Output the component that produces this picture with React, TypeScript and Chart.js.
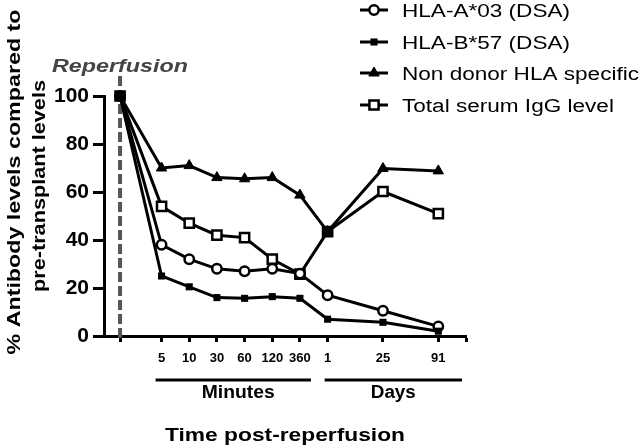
import React, { useEffect, useRef } from "react";
import { Chart, registerables } from "chart.js";

Chart.register(...registerables);

// ---- data ----
const timeLabels = ["", "5", "10", "30", "60", "120", "360", "1", "25", "91"];
const hlaA03 = [100, 38, 32, 28, 27, 28, 26, 17, 10.5, 4];
const hlaB57 = [100, 25, 20.5, 16, 15.7, 16.4, 15.7, 7, 5.7, 2];
const nonDonor = [100, 70, 71, 66, 65.5, 66, 58.7, 43.5, 69.8, 68.8];
const totalIgG = [100, 54, 47, 42, 41, 32, 25.8, 43.5, 60.2, 51];
const yTicks = [0, 20, 40, 60, 80, 100];
const seriesNames = [
  "HLA-A*03 (DSA)",
  "HLA-B*57 (DSA)",
  "Non donor HLA specific",
  "Total serum IgG level",
];

// category slot of each time point (minutes then days, days spaced wider)
const slotOf = (i: number) => (i === 0 ? 0 : i <= 7 ? i + 0.5 : 7.5 + (i - 7) * 2);
const AXIS_END = 12.5;
const FONT = "'Liberation Sans', Arial, sans-serif";

const toPoints = (arr: number[]) => arr.map((y, i) => ({ x: slotOf(i), y }));

function fitText(
  ctx: CanvasRenderingContext2D,
  text: string,
  x: number,
  y: number,
  width: number,
  font: string,
  align: CanvasTextAlign,
  rotate = 0
) {
  ctx.save();
  ctx.font = font;
  const m = ctx.measureText(text).width;
  ctx.translate(x, y);
  if (rotate) ctx.rotate(rotate);
  ctx.scale(width / m, 1);
  ctx.textAlign = align;
  ctx.textBaseline = "alphabetic";
  ctx.fillText(text, 0, 0);
  ctx.restore();
}

function drawMarker(
  ctx: CanvasRenderingContext2D,
  style: string,
  r: number,
  x: number,
  y: number,
  fill: string,
  bw: number
) {
  ctx.save();
  ctx.fillStyle = fill;
  ctx.strokeStyle = "#000";
  ctx.lineWidth = bw;
  ctx.beginPath();
  if (style === "circle") {
    ctx.arc(x, y, r, 0, Math.PI * 2);
  } else if (style === "rect") {
    const s = r * Math.SQRT1_2;
    ctx.rect(x - s, y - s, 2 * s, 2 * s);
  } else if (style === "triangle") {
    const h = (r * 3) / Math.sqrt(3);
    ctx.moveTo(x, y - r);
    ctx.lineTo(x + h / 2, y + r / 2);
    ctx.lineTo(x - h / 2, y + r / 2);
    ctx.closePath();
  }
  ctx.fill();
  if (bw > 0) ctx.stroke();
  ctx.restore();
}

const decorPlugin = {
  id: "decor",
  beforeDatasetsDraw(chart: any) {
    const ctx = chart.ctx as CanvasRenderingContext2D;
    const xs = chart.scales.x;
    const x0 = xs.getPixelForValue(0);
    ctx.save();
    ctx.strokeStyle = "#555";
    ctx.lineWidth = 4;
    ctx.setLineDash([10, 4]);
    ctx.beginPath();
    ctx.moveTo(x0, 76);
    ctx.lineTo(x0, chart.chartArea.bottom + 4);
    ctx.stroke();
    ctx.restore();
  },
  afterDraw(chart: any) {
    const ctx = chart.ctx as CanvasRenderingContext2D;
    const xs = chart.scales.x;
    ctx.save();

    // Reperfusion label
    ctx.fillStyle = "#444";
    fitText(ctx, "Reperfusion", 52, 72, 136, `italic bold 19px ${FONT}`, "left");
    ctx.fillStyle = "#000";

    // Y title
    fitText(ctx, "% Antibody levels compared to", 20, 182, 345, `bold 19px ${FONT}`, "center", -Math.PI / 2);
    fitText(ctx, "pre-transplant levels", 45, 186, 212, `bold 19px ${FONT}`, "center", -Math.PI / 2);

    // Group brackets
    const y = 380;
    ctx.strokeStyle = "#000";
    ctx.lineWidth = 3;
    const minL = xs.getPixelForValue(slotOf(1)) - 6;
    const minR = xs.getPixelForValue(slotOf(6)) + 11;
    const dayL = xs.getPixelForValue(slotOf(7)) - 3;
    const dayR = xs.getPixelForValue(AXIS_END) - 4;
    ctx.beginPath();
    ctx.moveTo(minL, y);
    ctx.lineTo(minR, y);
    ctx.moveTo(dayL, y);
    ctx.lineTo(dayR, y);
    ctx.stroke();
    fitText(ctx, "Minutes", (minL + minR) / 2 + 5, 398, 73, `bold 18px ${FONT}`, "center");
    fitText(ctx, "Days", (dayL + dayR) / 2, 398, 45, `bold 18px ${FONT}`, "center");
    fitText(ctx, "Time post-reperfusion", 285, 441, 240, `bold 19px ${FONT}`, "center");

    // Legend
    const rows = [10, 42, 73, 105];
    ctx.font = `18px ${FONT}`;
    const legendScale = 168 / ctx.measureText(seriesNames[0]).width;
    rows.forEach((ry, i) => {
      const ds = chart.data.datasets[i];
      ctx.strokeStyle = "#000";
      ctx.lineWidth = 3;
      ctx.setLineDash([]);
      ctx.beginPath();
      ctx.moveTo(360, ry);
      ctx.lineTo(388, ry);
      ctx.stroke();
      drawMarker(ctx, ds.pointStyle, ds.pointRadius, 374, ry, ds.pointBackgroundColor, ds.pointBorderWidth);
      ctx.fillStyle = "#000";
      ctx.save();
      ctx.font = `18px ${FONT}`;
      ctx.translate(402, ry + 6.5);
      ctx.scale(legendScale, 1);
      ctx.textAlign = "left";
      ctx.fillText(seriesNames[i], 0, 0);
      ctx.restore();
    });
    ctx.restore();
  },
};

export default function App() {
  const ref = useRef<HTMLCanvasElement>(null);
  useEffect(() => {
    document.body.style.margin = "0";
    const canvas = ref.current!;
    const base = {
      borderColor: "#000",
      borderWidth: 3,
      tension: 0,
      clip: false as any,
      pointBorderColor: "#000",
    };
    const chart = new Chart(canvas, {
      type: "line",
      data: {
        datasets: [
          {
            ...base,
            label: seriesNames[0],
            data: toPoints(hlaA03),
            pointStyle: "circle",
            pointRadius: 4.7,
            pointBackgroundColor: "#fff",
            pointBorderWidth: 2.5,
            order: 2,
          },
          {
            ...base,
            label: seriesNames[1],
            data: toPoints(hlaB57),
            pointStyle: "rect",
            pointRadius: 5,
            pointBackgroundColor: "#000",
            pointBorderWidth: 0,
            order: 0,
          },
          {
            ...base,
            label: seriesNames[2],
            data: toPoints(nonDonor),
            pointStyle: "triangle",
            pointRadius: 6,
            pointBackgroundColor: "#000",
            pointBorderWidth: 1,
            order: 1,
          },
          {
            ...base,
            label: seriesNames[3],
            data: toPoints(totalIgG),
            pointStyle: "rect",
            pointRadius: 6.5,
            pointBackgroundColor: "#fff",
            pointBorderWidth: 2.5,
            order: 3,
          },
        ] as any,
      },
      options: {
        responsive: false,
        animation: false,
        layout: { padding: { left: 0, top: 96, right: 174, bottom: 0 } },
        plugins: { legend: { display: false }, tooltip: { enabled: false } },
        scales: {
          x: {
            type: "linear",
            min: -0.58,
            max: AXIS_END,
            afterBuildTicks: (s: any) => {
              s.ticks = [0, ...timeLabels.slice(1).map((_, i) => slotOf(i + 1)), AXIS_END].map((v) => ({ value: v }));
            },
            afterFit: (s: any) => {
              s.height = 112;
            },
            ticks: {
              autoSkip: false,
              maxRotation: 0,
              color: "#000",
              padding: 9,
              font: { family: FONT, weight: "bold", size: 13 },
              callback: (v: any) => {
                const i = timeLabels.findIndex((_, k) => slotOf(k) === v);
                return i >= 0 ? timeLabels[i] : "";
              },
            },
            grid: { drawOnChartArea: false, tickLength: 6, tickWidth: 3, color: "#000" },
            border: { width: 3, color: "#000" },
          },
          y: {
            min: 0,
            max: 100,
            afterBuildTicks: (s: any) => {
              s.ticks = yTicks.map((v) => ({ value: v }));
            },
            afterFit: (s: any) => {
              s.width = 104;
            },
            ticks: {
              color: "#000",
              padding: 4,
              font: { family: FONT, weight: "bold", size: 21 },
            },
            grid: { drawOnChartArea: false, tickLength: 11, tickWidth: 3, color: "#000" },
            border: { width: 3, color: "#000" },
          },
        },
      } as any,
      plugins: [decorPlugin],
    });
    return () => chart.destroy();
  }, []);
  return (
    <div style={{ width: 640, height: 448, background: "#fff" }}>
      <canvas ref={ref} width={640} height={448} style={{ display: "block" }} />
    </div>
  );
}
